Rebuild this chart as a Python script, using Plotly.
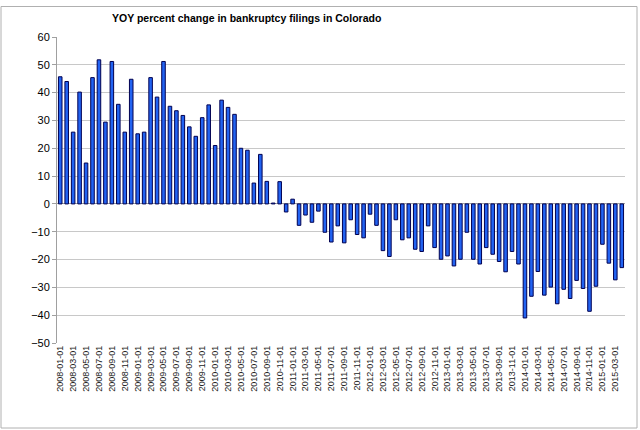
import plotly.graph_objects as go
import pandas as pd

# Monthly dates, Jan 2008 .. Apr 2015
dates = [d.strftime("%Y-%m-%d") for d in pd.date_range("2008-01-01", "2015-04-01", freq="MS")]

# YOY percent change
yoy_change = [
    45.7, 44.0, 25.8, 40.2, 14.7, 45.4, 51.8, 29.4, 51.2, 35.8, 25.8, 44.8,
    25.2, 25.8, 45.4, 38.4, 51.2, 35.1, 33.5, 31.8, 27.7, 24.3, 31.0, 35.6,
    21.0, 37.3, 34.7, 32.2, 20.0, 19.3, 7.5, 17.8, 8.1, 0.3, 8.0, -2.9,
    1.7, -7.7, -4.0, -6.6, -2.6, -10.2, -13.7, -7.9, -14.0, -5.7, -11.0, -12.2,
    -3.7, -7.7, -16.8, -18.9, -5.7, -12.9, -12.2, -16.3, -17.1, -7.9, -15.7, -19.9,
    -18.7, -22.3, -19.9, -10.2, -19.9, -21.6, -15.7, -18.1, -20.7, -24.4, -17.1, -21.6,
    -41.0, -33.2, -24.3, -32.8, -29.9, -35.9, -30.7, -34.0, -27.5, -30.4, -38.6, -29.6,
    -14.5, -21.3, -27.3, -22.9,
]

tick_labels = dates[::2]

fig = go.Figure()

fig.add_trace(go.Bar(
    x=dates,
    y=yoy_change,
    marker_color="#2263f2",
    marker_line_color="#000050",
    marker_line_width=1,
))

fig.update_layout(
    width=640,
    height=430,
    margin=dict(l=57, r=15, t=37, b=87),
    paper_bgcolor="white",
    plot_bgcolor="white",
    showlegend=False,
    bargap=0.45,
    font=dict(family="Liberation Sans, Arial, sans-serif", color="black"),
    title=dict(
        text="<b>YOY percent change in bankruptcy filings in Colorado</b>",
        x=112 / 640, xanchor="left",
        y=1 - 18 / 430, yanchor="middle",
        font=dict(size=10.5, color="black"),
    ),
)

fig.update_xaxes(
    type="category",
    tickmode="array",
    tickvals=tick_labels,
    ticktext=tick_labels,
    tickangle=-90,
    tickfont=dict(size=9, color="#222222"),
    showgrid=False,
    showline=False,
    ticks="",
)

fig.update_yaxes(
    range=[-50, 60],
    dtick=10,
    showgrid=True,
    gridcolor="#c8c8c8",
    gridwidth=1,
    zeroline=True,
    zerolinecolor="#a0a0a0",
    zerolinewidth=1,
    showline=True,
    linecolor="#a0a0a0",
    ticks="outside",
    ticklen=4,
    tickcolor="#a0a0a0",
    tickfont=dict(size=11, color="black"),
)

# thin grey frame round the chart area
fig.add_shape(
    type="rect", xref="paper", yref="paper",
    x0=-56 / 568, x1=580 / 568, y0=-85 / 306, y1=306.5 / 306 + 30 / 306,
    line=dict(color="#b0b0b0", width=1),
)

fig.write_html(
    "out.html",
    config={"displayModeBar": False},
    post_script="document.body.style.margin='0';",
)
